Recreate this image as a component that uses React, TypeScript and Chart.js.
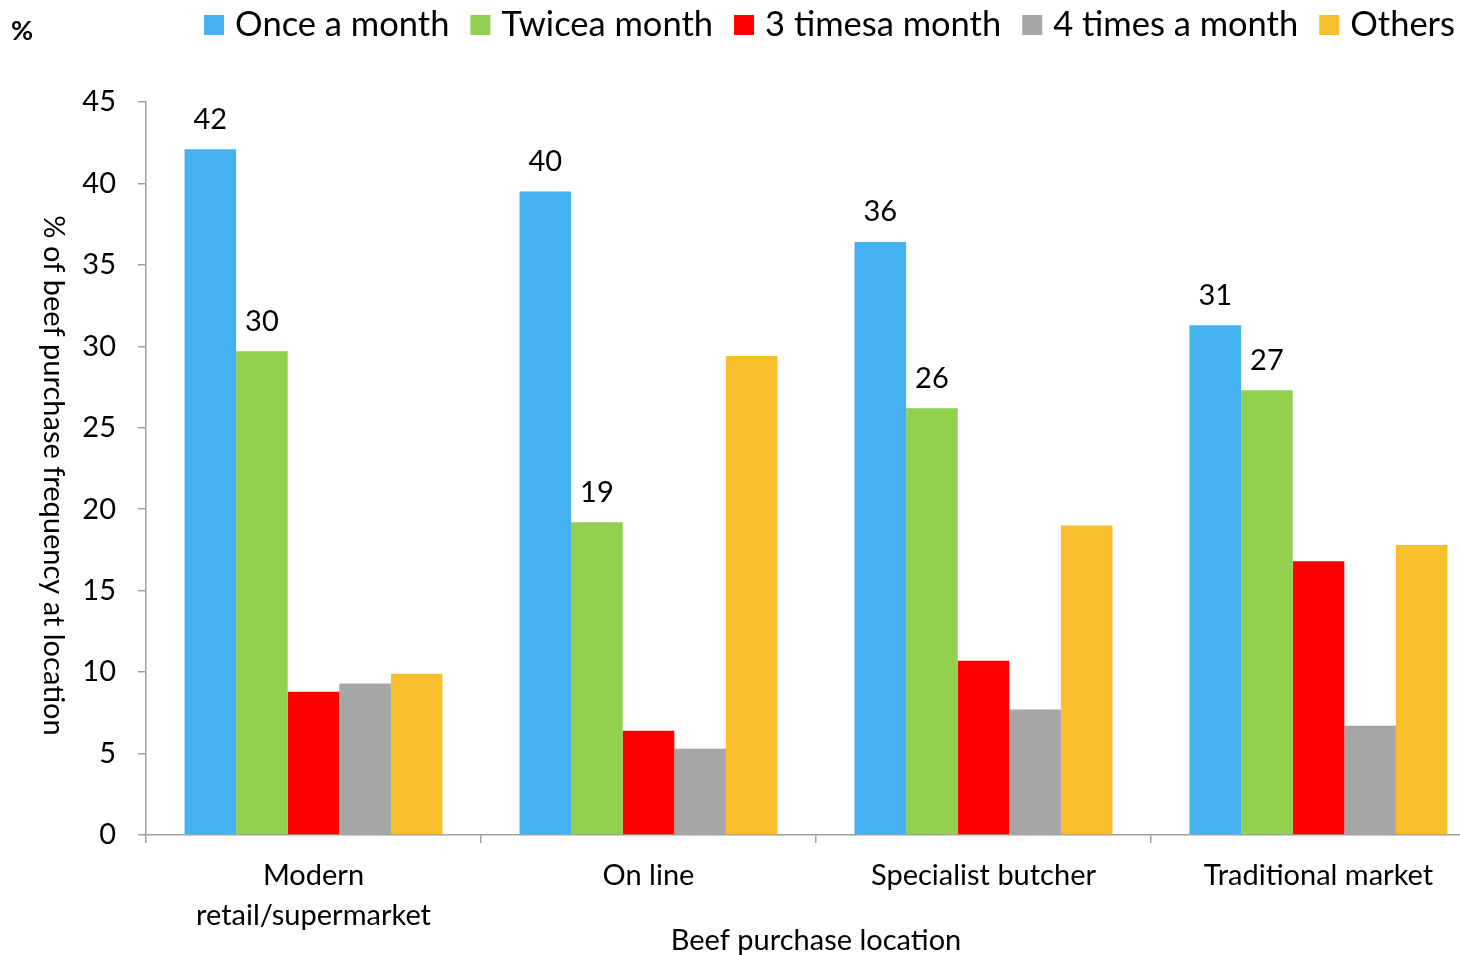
import React, { useEffect, useRef } from 'react';
import { Chart, registerables } from 'chart.js';
Chart.register(...registerables);

const categories: (string | string[])[] = [['Modern', 'retail/supermarket'], 'On line', 'Specialist butcher', 'Traditional market'];
const seriesNames = ['Once a month', 'Twicea month', '3 timesa month', '4 times a month', 'Others'];
const onceAMonth = [42.1, 39.5, 36.4, 31.3];
const twiceAMonth = [29.7, 19.2, 26.2, 27.3];
const threeTimesAMonth = [8.8, 6.4, 10.7, 16.8];
const fourTimesAMonth = [9.3, 5.3, 7.7, 6.7];
const others = [9.9, 29.4, 19.0, 17.8];
const seriesColors = ['#45B1F0', '#92D050', '#FF0000', '#A6A6A6', '#F7BF2B'];
const labelledSeries = [0, 1];
const yMin = 0;
const yMax = 45;
const yStep = 5;
const xTitle = 'Beef purchase location';
const yTitle = '% of beef purchase frequency at location';
const unitLabel = '%';

const FONT = 'Lato, "Open Sans", sans-serif';
const TXT = 29;

export default function App() {
  const ref = useRef<HTMLCanvasElement | null>(null);
  useEffect(() => {
    if (!ref.current) return;
    const allSeries = [onceAMonth, twiceAMonth, threeTimesAMonth, fourTimesAMonth, others];

    const extras = {
      id: 'extras',
      afterDatasetsDraw(chart: any) {
        const ctx = chart.ctx;
        ctx.save();
        ctx.fillStyle = '#000';
        ctx.font = `${TXT}px ${FONT}`;
        ctx.textAlign = 'center';
        ctx.textBaseline = 'middle';
        labelledSeries.forEach((di) => {
          const meta = chart.getDatasetMeta(di);
          meta.data.forEach((bar: any, i: number) => {
            const v = allSeries[di][i];
            ctx.fillText(String(Math.round(v)), bar.x, bar.y - 30);
          });
        });
        ctx.restore();
      },
      afterDraw(chart: any) {
        const ctx = chart.ctx;
        const area = chart.chartArea;
        ctx.save();
        ctx.fillStyle = '#000';
        ctx.font = `${TXT}px ${FONT}`;
        ctx.translate(53, (area.top + area.bottom) / 2 + 7);
        ctx.rotate(Math.PI / 2);
        ctx.textAlign = 'center';
        ctx.textBaseline = 'middle';
        ctx.fillText(yTitle, 0, 0);
        ctx.restore();

        ctx.save();
        ctx.fillStyle = '#000';
        ctx.font = `bold 27px ${FONT}`;
        ctx.textAlign = 'left';
        ctx.textBaseline = 'middle';
        ctx.fillText(unitLabel, 11, 31);

        ctx.font = `34.5px ${FONT}`;
        const box = 20, gapText = 11, gapItem = 21;
        const widths = seriesNames.map((n) => ctx.measureText(n).width);
        const total = widths.reduce((a, w) => a + box + gapText + w, 0) + gapItem * (seriesNames.length - 1);
        let x = 1455 - total;
        const cy = 25;
        seriesNames.forEach((n, i) => {
          ctx.fillStyle = seriesColors[i];
          ctx.fillRect(x, cy - 10, box, box);
          ctx.fillStyle = '#000';
          ctx.fillText(n, x + box + gapText, cy);
          x += box + gapText + widths[i] + gapItem;
        });
        ctx.restore();
      },
    };

    const chart = new Chart(ref.current, {
      type: 'bar',
      data: {
        labels: categories,
        datasets: allSeries.map((d, i) => ({
          label: seriesNames[i],
          data: d,
          backgroundColor: seriesColors[i],
          borderWidth: 0,
          categoryPercentage: 0.77,
          barPercentage: 1.0,
        })),
      },
      options: {
        responsive: false,
        animation: false,
        devicePixelRatio: 1,
        layout: { padding: { top: 102, left: 0, right: 0, bottom: 0 } },
        plugins: { legend: { display: false }, tooltip: { enabled: false }, title: { display: false } },
        scales: {
          x: {
            offset: true,
            grid: { display: true, drawOnChartArea: false, offset: true, tickLength: 8, color: '#A0A0A0', lineWidth: 1.5 },
            border: { display: true, color: '#A0A0A0', width: 1.5 },
            ticks: { color: '#000', padding: 13, font: { family: FONT, size: TXT, lineHeight: 40 / TXT }, maxRotation: 0, autoSkip: false },
            title: { display: true, text: xTitle, color: '#000', font: { family: FONT, size: TXT, lineHeight: 1 }, padding: { top: 0, bottom: 0 } },
            afterFit(scale: any) { scale.height = 120; },
          },
          y: {
            min: yMin,
            max: yMax,
            grid: { display: true, drawOnChartArea: false, tickLength: 8, color: '#A0A0A0', lineWidth: 1.5 },
            border: { display: true, color: '#A0A0A0', width: 1.5 },
            ticks: { stepSize: yStep, color: '#000', padding: 22, font: { family: FONT, size: TXT } },
            afterFit(scale: any) { scale.width = 146; },
          },
        },
      },
      plugins: [extras],
    });
    return () => chart.destroy();
  }, []);

  return (
    <div style={{ position: 'fixed', left: 0, top: 0, width: 1460, height: 955, overflow: 'hidden', background: '#fff' }}>
      <canvas ref={ref} width={1486} height={955} style={{ display: 'block' }} />
    </div>
  );
}
